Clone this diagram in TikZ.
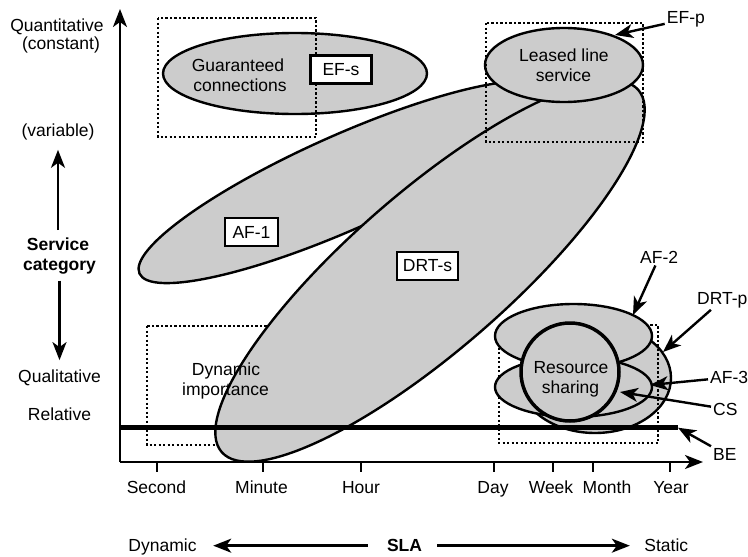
\documentclass[tikz,border=0pt]{standalone}
\usepackage{fontspec}
\setmainfont{Liberation Sans}
\usetikzlibrary{arrows.meta}
\tikzset{
  blob/.style={fill=gray!40, draw=black, line width=2.4pt},
  dotbox/.style={draw=black, line width=2.3pt, dash pattern=on 2.3pt off 2.2pt},
  tagbox/.style={draw=black, fill=white, line width=2.8pt, inner sep=0pt, minimum height=28pt},
  txt/.style={inner sep=2pt, anchor=base},
  heavy/.style={font=\fontsize{17.5}{20}\selectfont\bfseries},
  arr/.style={line width=2.4pt, -{Stealth[length=18pt,width=14pt,inset=5pt]}},
}

\begin{document}
\begin{tikzpicture}[x=1pt, y=-1pt, font=\fontsize{17.5}{20}\selectfont]
\useasboundingbox (0,0) rectangle (748,557);

\draw[dotbox] (147,326) rectangle (270,445);
\draw[blob, shift={(345,182)}, rotate=24] (0,0) ellipse [x radius=225, y radius=47];
\draw[blob, shift={(430,271)}, rotate=41] (0,0) ellipse [x radius=276, y radius=79];
\draw[blob] (564,65) ellipse [x radius=79, y radius=37];
\draw[blob] (295,73.5) ellipse [x radius=132, y radius=40.5];
\draw[dotbox] (158,18) rectangle (316,137);
\draw[dotbox] (486,23) rectangle (643,142);

\node[tagbox, minimum width=61pt] (efs) at (341,69.5) {EF-s};
\node[tagbox, minimum width=53pt] (af1) at (251.5,232) {AF-1};
\node[tagbox, minimum width=61pt] (drts) at (427.5,266) {DRT-s};

\node[txt] (gc1) at (238,71.7) {Guaranteed};
\node[txt] (gc2) at (240,91.7) {connections};
\node[txt] (ll1) at (564,61.7) {Leased line};
\node[txt] (ll2) at (563.5,81.7) {service};
\node[txt] (di1) at (226,375) {Dynamic};
\node[txt] (di2) at (225.5,395.7) {importance};

% resource sharing cluster
\draw[blob] (595,378) ellipse [x radius=76, y radius=55];
\draw[dotbox] (499,325) rectangle (658,443);
\draw[blob] (573.5,336) ellipse [x radius=78.5, y radius=32];
\draw[blob] (573.5,387) ellipse [x radius=78.5, y radius=30];
\draw[blob, line width=3.5pt] (570,372) circle [radius=49];
\node[txt] (rs1) at (571,373.3) {Resource};
\node[txt] (rs2) at (570.5,393.3) {sharing};

\coordinate (beend) at (678,427.7);
\draw[line width=4.5pt] (120,427.7) -- (beend);

% axes
\coordinate (o) at (120,462);
\coordinate (ytip) at (120,9);
\coordinate (xtip) at (703,462);
\draw[arr, line width=2.5pt] (o) -- (ytip);
\draw[arr, line width=2.5pt] (o) -- (xtip);
\foreach \tx/\lx/\lab in {157/156.5/Second, 263/261.5/Minute, 361/361/Hour, 494/493/Day, 553/551/Week, 593/607/Month, 670/671/Year}{
  \draw[line width=2.4pt] (\tx,462) -- (\tx,472);
  \node[txt] (\lab) at (\lx,493) {\lab};
}

\node[txt] (quan) at (57,31) {Quantitative};
\node[txt] (const) at (61,49) {(constant)};
\node[txt] (var) at (58,136) {(variable)};
\node[txt, heavy] (svc) at (58,250) {Service};
\node[txt, heavy] (cat) at (59.5,270.7) {category};
\node[txt] (qual) at (59.5,382) {Qualitative};
\node[txt] (rel) at (59.5,420) {Relative};
\draw[arr, shorten <=5pt, shorten >=8pt] (svc.north) -- (var.south);
\draw[arr, shorten <=4pt, shorten >=7pt] (cat.south) -- (qual.north);

\node[txt] (dyn) at (162.5,551) {Dynamic};
\node[txt, heavy] (sla) at (404.5,551.7) {SLA};
\node[txt] (stat) at (666.3,551) {Static};
\draw[arr, shorten <=17pt, shorten >=14.5pt] (sla.west) -- (sla.west -| dyn.east);
\draw[arr, shorten <=13pt, shorten >=12.4pt] (sla.east) -- (sla.east -| stat.west);

% pointers
\node[txt, anchor=base west] (efp) at (664.7,23.3) {EF-p};
\node[txt, anchor=base west] (af2) at (638,263.3) {AF-2};
\node[txt, anchor=base west] (drtp) at (695,304) {DRT-p};
\node[txt, anchor=base west] (af3) at (708,383.3) {AF-3};
\node[txt, anchor=base west] (cs) at (711,415) {CS};
\node[txt, anchor=base west] (be) at (711,460) {BE};
\coordinate (efptip) at (615,35);
\coordinate (af2tip) at (633,315);
\coordinate (drtptip) at (663,352);
\coordinate (af3tip) at (650,385);
\coordinate (cstip) at (620,392);
\draw[arr] (efp) -- (efptip);
\draw[arr] (af2) -- (af2tip);
\draw[arr] (drtp) -- (drtptip);
\draw[arr] (af3) -- (af3tip);
\draw[arr] (cs) -- (cstip);
\draw[arr] (be) -- (beend);
\end{tikzpicture}
\end{document}
